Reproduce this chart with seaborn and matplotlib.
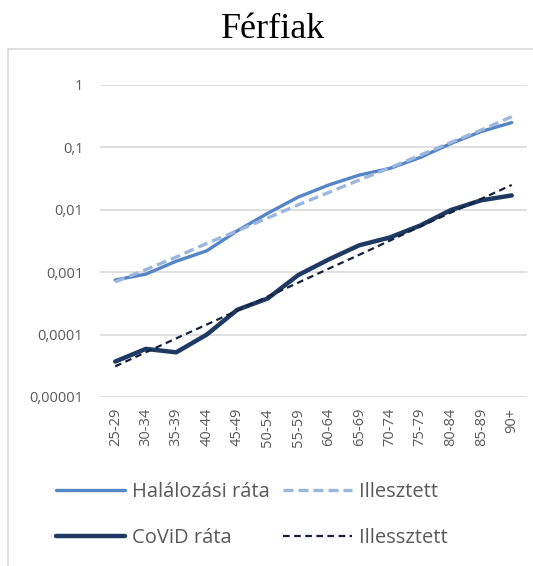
import matplotlib
matplotlib.use("Agg")
import matplotlib.pyplot as plt
import matplotlib.ticker as mticker
from matplotlib.lines import Line2D
import seaborn as sns
import pandas as pd

categories = ["25-29", "30-34", "35-39", "40-44", "45-49", "50-54", "55-59",
              "60-64", "65-69", "70-74", "75-79", "80-84", "85-89", "90+"]
halalozasi = [0.00075, 0.00093, 0.00150, 0.0022, 0.0046, 0.0088, 0.0160,
              0.0250, 0.0360, 0.0460, 0.0690, 0.1150, 0.1800, 0.2500]
illesztett = [0.00070, 0.00110, 0.00175, 0.0029, 0.0046, 0.0074, 0.0120,
              0.0190, 0.0300, 0.0470, 0.0750, 0.1200, 0.1900, 0.3100]
covid = [0.000037, 0.000059, 0.000052, 0.000100, 0.000250, 0.000380, 0.00090,
         0.00160, 0.00270, 0.00360, 0.00560, 0.00990, 0.01420, 0.01700]
illessztett = [0.000031, 0.000052, 0.000087, 0.000145, 0.000243, 0.000407, 0.00068,
               0.00114, 0.00190, 0.00320, 0.00540, 0.00900, 0.01500, 0.02500]
ytick_vals = [0.00001, 0.0001, 0.001, 0.01, 0.1, 1]
ytick_labels = ["0,00001", "0,0001", "0,001", "0,01", "0,1", "1"]
title = "Férfiak"

sns.set_theme(style="white")
plt.rcParams["font.family"] = ["Open Sans", "DejaVu Sans"]

fig = plt.figure(figsize=(5.33, 5.66), dpi=100)
ax = fig.add_axes([100 / 533, 1 - 397 / 566, 427 / 533, 312 / 566])

df = pd.DataFrame({"cat": categories, "h": halalozasi, "hi": illesztett,
                   "c": covid, "ci": illessztett})

c_h = "#5585C6"
c_hi = "#9BB7DF"
c_c = "#1E3A64"
c_ci = "#14223E"

sns.lineplot(data=df, x="cat", y="h", ax=ax, color=c_h, lw=2.4, sort=False)
sns.lineplot(data=df, x="cat", y="hi", ax=ax, color=c_hi, lw=2.4, sort=False,
             linestyle=(0, (3, 1.5)))
sns.lineplot(data=df, x="cat", y="c", ax=ax, color=c_c, lw=3.2, sort=False)
sns.lineplot(data=df, x="cat", y="ci", ax=ax, color=c_ci, lw=1.6, sort=False,
             linestyle=(0, (3, 2)))

ax.set_yscale("log")
ax.set_ylim(1e-5, 1)
ax.set_xlim(-0.5, len(categories) - 0.5)
ax.yaxis.set_major_locator(mticker.FixedLocator(ytick_vals))
ax.yaxis.set_minor_locator(mticker.NullLocator())
ax.set_yticks(ytick_vals)
ax.set_yticklabels(ytick_labels)
ax.set_xticks(range(len(categories)))
ax.set_xticklabels(categories, rotation=90)
ax.tick_params(axis="both", colors="#595959", labelsize=10.5, length=0)
ax.tick_params(axis="y", pad=12)
ax.tick_params(axis="x", pad=8)
ax.set_xlabel("")
ax.set_ylabel("")
ax.grid(axis="y", color="#D9D9D9", lw=1.2)
ax.grid(axis="x", visible=False)
for s in ax.spines.values():
    s.set_visible(False)

# chart border (top and left)
fig.add_artist(Line2D([8 / 533, 8 / 533], [1 - 49 / 566, 0], transform=fig.transFigure,
                      color="#D9D9D9", lw=1.2))
fig.add_artist(Line2D([8 / 533, 1], [1 - 49 / 566, 1 - 49 / 566], transform=fig.transFigure,
                      color="#D9D9D9", lw=1.2))

fig.text(273 / 533, 1 - 38 / 566, title, ha="center", va="baseline",
         fontsize=26, family=["Liberation Serif", "DejaVu Serif"], color="black")

handles = [
    Line2D([], [], color=c_h, lw=2.4),
    Line2D([], [], color=c_c, lw=3.2),
    Line2D([], [], color=c_hi, lw=2.4, linestyle=(0, (3, 1.5))),
    Line2D([], [], color=c_ci, lw=1.6, linestyle=(0, (3, 2))),
]
labels = ["Halálozási ráta", "CoViD ráta", "Illesztett", "Illessztett"]
leg = fig.legend(handles, labels, ncol=2, loc="center left",
                 bbox_to_anchor=(50 / 533, 1 - 515 / 566), frameon=False,
                 fontsize=14.5, handlelength=3.4, handletextpad=0.35,
                 columnspacing=0.7, labelspacing=1.25, labelcolor="#595959",
                 borderaxespad=0, borderpad=0.3)

fig.savefig("out.png", dpi=100)
